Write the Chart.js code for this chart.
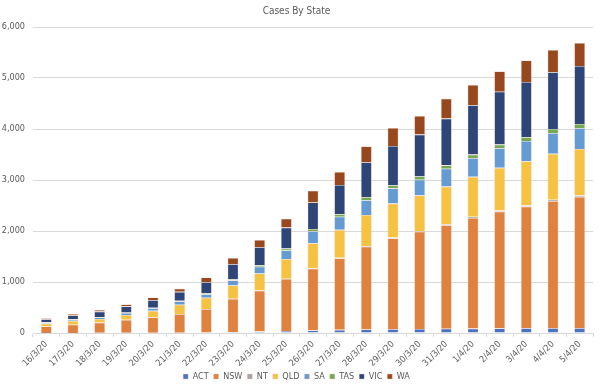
<!DOCTYPE html>
<html>
<head>
<meta charset="utf-8">
<script src="https://cdn.jsdelivr.net/npm/chart.js@4/dist/chart.umd.min.js"></script>
<style>
  html, body { margin: 0; padding: 0; background: #fff; }
  #wrap { width: 600px; height: 391px; }
</style>
</head>
<body>
<div id="wrap"><canvas id="casesChart" width="600" height="391"></canvas></div>
<script>
// dates (x axis)
const dates = ['16/3/20','17/3/20','18/3/20','19/3/20','20/3/20','21/3/20','22/3/20','23/3/20','24/3/20','25/3/20','26/3/20',
               '27/3/20','28/3/20','29/3/20','30/3/20','31/3/20','1/4/20','2/4/20','3/4/20','4/4/20','5/4/20'];

// cases per state
const act = [2, 2, 3, 4, 4, 6, 9, 19, 32, 39, 53, 62, 71, 77, 80, 84, 87, 91, 93, 96, 96];
const nsw = [126, 160, 200, 255, 300, 365, 460, 650, 800, 1020, 1210, 1400, 1620, 1780, 1905, 2030, 2170, 2290, 2385, 2490, 2575];
const nt  = [1, 1, 1, 1, 1, 3, 3, 5, 5, 6, 6, 12, 15, 15, 15, 17, 21, 22, 26, 27, 28];
const qld = [55, 75, 72, 95, 130, 180, 220, 259, 330, 385, 493, 550, 610, 665, 700, 740, 785, 835, 865, 900, 910];
const sa  = [20, 29, 30, 37, 50, 67, 70, 100, 134, 170, 235, 257, 287, 299, 305, 350, 367, 385, 396, 407, 409];
const tas = [7, 7, 10, 10, 10, 11, 16, 22, 28, 36, 42, 47, 62, 62, 65, 66, 69, 72, 74, 80, 82];
const vic = [60, 71, 105, 121, 150, 175, 220, 296, 355, 411, 520, 574, 685, 769, 821, 917, 968, 1036, 1085, 1115, 1135];
const wa  = [20, 28, 31, 40, 52, 64, 90, 120, 140, 175, 231, 255, 311, 355, 364, 392, 400, 400, 420, 436, 453];

const yTicks = [0, 1000, 2000, 3000, 4000, 5000, 6000];

const FONT = "'Liberation Sans Narrow', 'DejaVu Sans Condensed', 'Liberation Sans', sans-serif";
const GREY = '#595959';

function serie(label, data, color) {
    return { label: label, data: data, backgroundColor: color, borderColor: 'rgba(240,200,190,0.7)', borderWidth: 0.6 };
}

const ctx = document.getElementById('casesChart').getContext('2d');
const chart = new Chart(ctx, {
    type: 'bar',
    data: {
        labels: dates,
        datasets: [
            serie('ACT', act, '#4A72C0'),
            serie('NSW', nsw, '#E0823F'),
            serie('NT', nt, '#A5A5A5'),
            serie('QLD', qld, '#F5C242'),
            serie('SA', sa, '#659BD3'),
            serie('TAS', tas, '#74A852'),
            serie('VIC', vic, '#2D4677'),
            serie('WA', wa, '#97481F')
        ]
    },
    options: {
        responsive: false,
        animation: false,
        layout: { padding: { left: 0, right: 7, top: 0, bottom: 0 } },
        datasets: { bar: { categoryPercentage: 1, barPercentage: 0.41 } },
        plugins: {
            title: {
                display: true,
                text: 'Cases By State',
                color: GREY,
                font: { family: FONT, size: 10, weight: 'normal' },
                padding: { top: 5, bottom: 10 }
            },
            legend: {
                position: 'bottom',
                labels: {
                    color: GREY,
                    font: { family: FONT, size: 9 },
                    boxWidth: 5,
                    boxHeight: 5,
                    padding: 5
                }
            },
            tooltip: { enabled: false }
        },
        scales: {
            x: {
                stacked: true,
                grid: { offset: true, drawOnChartArea: false, drawTicks: true, tickLength: 4, color: '#D9D9D9' },
                border: { color: '#D9D9D9' },
                ticks: {
                    color: GREY,
                    font: { family: FONT, size: 9 },
                    minRotation: 45,
                    maxRotation: 45,
                    autoSkip: false,
                    padding: 2
                },
                afterFit: function (scale) { scale.height = 34; }
            },
            y: {
                stacked: true,
                min: 0,
                max: 6000,
                grid: { color: '#D9D9D9', drawTicks: false },
                border: { display: false },
                afterBuildTicks: function (scale) {
                    scale.ticks = yTicks.map(v => ({ value: v }));
                },
                ticks: {
                    color: GREY,
                    font: { family: FONT, size: 9 },
                    padding: 8,
                    callback: v => v.toLocaleString('en-US')
                },
                afterFit: function (scale) { scale.width = 33; }
            }
        }
    }
});
</script>
</body>
</html>
